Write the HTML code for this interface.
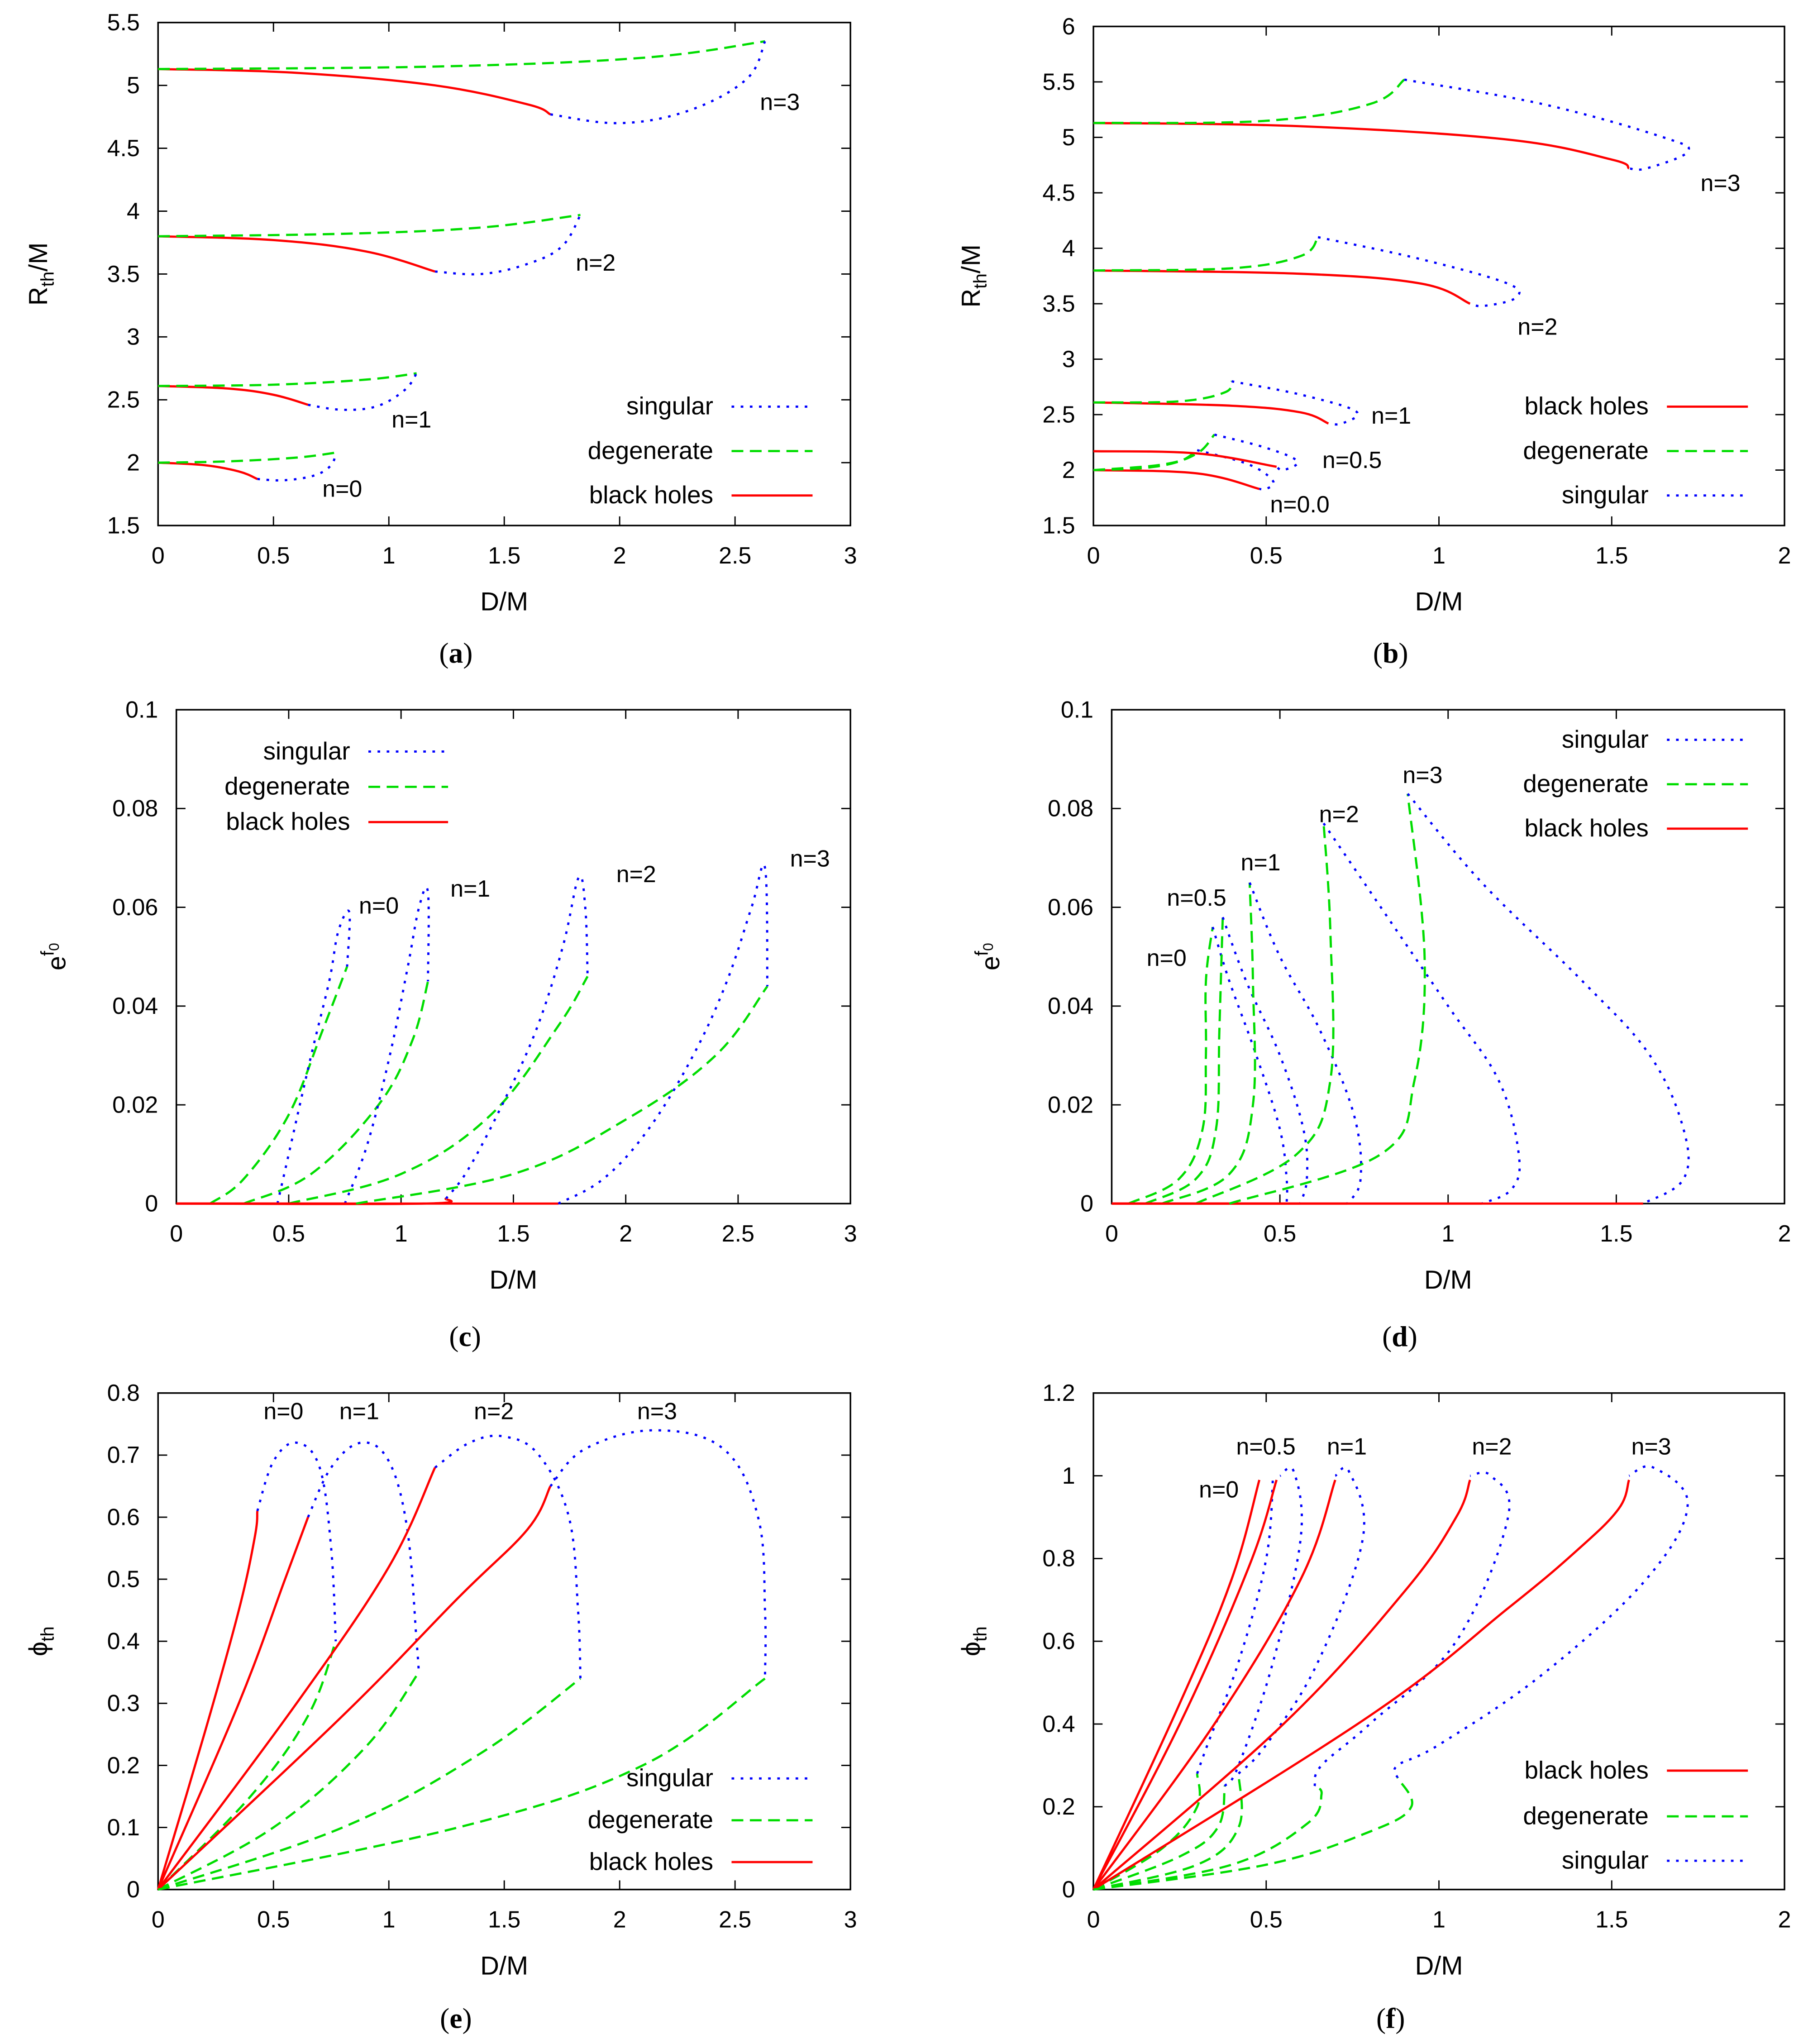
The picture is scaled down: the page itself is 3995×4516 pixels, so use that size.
<!DOCTYPE html>
<html><head><meta charset="utf-8">
<style>
html,body{margin:0;padding:0;background:#fff;}
svg{display:block;}
text{font-family:"Liberation Sans",sans-serif;font-size:18px;fill:#000;}
.cap{font-family:"Liberation Serif",serif;font-size:22px;}
</style></head>
<body>
<svg id="fig" xmlns="http://www.w3.org/2000/svg" width="3995" height="4516" viewBox="0 0 1384 1564"></svg>
<script>
// ---------- Panel (a): R_th/M vs D/M ----------
const aXTicks=[0,0.5,1,1.5,2,2.5,3];
const aYTicks=[1.5,2,2.5,3,3.5,4,4.5,5,5.5];
const a_n0_bh=[[0,2.0],[0.2,1.98],[0.35,1.93],[0.43,1.87]];
const a_n0_sg=[[0.43,1.87],[0.55,1.86],[0.68,1.9],[0.75,1.98],[0.77,2.08]];
const a_n0_dg=[[0,2.0],[0.3,2.01],[0.6,2.04],[0.77,2.08]];
const a_n1_bh=[[0,2.61],[0.3,2.59],[0.5,2.54],[0.65,2.46]];
const a_n1_sg=[[0.65,2.46],[0.8,2.42],[0.95,2.45],[1.07,2.58],[1.12,2.71]];
const a_n1_dg=[[0,2.61],[0.5,2.62],[0.9,2.66],[1.12,2.71]];
const a_n2_bh=[[0,3.8],[0.5,3.77],[0.9,3.68],[1.2,3.52]];
const a_n2_sg=[[1.2,3.52],[1.4,3.5],[1.6,3.58],[1.75,3.72],[1.83,3.97]];
const a_n2_dg=[[0,3.8],[0.8,3.82],[1.4,3.87],[1.83,3.97]];
const a_n3_bh=[[0,5.13],[0.6,5.1],[1.2,5.0],[1.6,4.85],[1.7,4.77]];
const a_n3_sg=[[1.7,4.77],[2.0,4.7],[2.3,4.8],[2.55,5.05],[2.63,5.35]];
const a_n3_dg=[[0,5.13],[1.2,5.15],[2.1,5.22],[2.63,5.35]];
// ---------- Panel (b) ----------
const bXTicks=[0,0.5,1,1.5,2];
const bYTicks=[1.5,2,2.5,3,3.5,4,4.5,5,5.5,6];
const b_n0_bh=[[0,2.0],[0.3,1.97],[0.48,1.83]];
const b_n0_dg=[[0,2.0],[0.15,2.02],[0.25,2.08],[0.3,2.18]];
const b_n0_sg=[[0.3,2.18],[0.45,2.05],[0.52,1.9],[0.5,1.83],[0.48,1.83]];
const b_n05_bh=[[0,2.17],[0.3,2.15],[0.53,2.03]];
const b_n05_dg=[[0,2.0],[0.2,2.05],[0.3,2.15],[0.35,2.32]];
const b_n05_sg=[[0.35,2.32],[0.5,2.2],[0.59,2.08],[0.55,2.0],[0.53,2.03]];
const b_n1_bh=[[0,2.61],[0.4,2.58],[0.6,2.52],[0.68,2.42]];
const b_n1_dg=[[0,2.61],[0.25,2.62],[0.38,2.7],[0.4,2.8]];
const b_n1_sg=[[0.4,2.8],[0.6,2.68],[0.76,2.53],[0.72,2.42],[0.68,2.42]];
const b_n2_bh=[[0,3.8],[0.6,3.77],[0.95,3.68],[1.09,3.5]];
const b_n2_dg=[[0,3.8],[0.4,3.82],[0.6,3.93],[0.65,4.1]];
const b_n2_sg=[[0.65,4.1],[0.95,3.9],[1.2,3.68],[1.22,3.55],[1.13,3.48],[1.09,3.5]];
const b_n3_bh=[[0,5.13],[0.6,5.1],[1.2,4.98],[1.5,4.8],[1.55,4.72]];
const b_n3_dg=[[0,5.13],[0.5,5.15],[0.8,5.3],[0.9,5.52]];
const b_n3_sg=[[0.9,5.52],[1.3,5.3],[1.65,5.0],[1.72,4.87],[1.6,4.72],[1.55,4.72]];
// ---------- Panel (c) ----------
const cXTicks=[0,0.5,1,1.5,2,2.5,3];
const cYTicks=[0,0.02,0.04,0.06,0.08,0.1];
const cYLabels=["0","0.02","0.04","0.06","0.08","0.1"];
const c_n0_bh=[[0,0],[0.45,0]];
const c_n0_sg=[[0.45,0],[0.5,0.01],[0.6,0.03],[0.68,0.045],[0.72,0.055],[0.77,0.059],[0.76,0.048]];
const c_n0_dg=[[0.15,0],[0.3,0.005],[0.5,0.018],[0.65,0.035],[0.76,0.048]];
const c_n1_bh=[[0,0],[0.75,0]];
const c_n1_sg=[[0.75,0],[0.85,0.012],[0.95,0.03],[1.03,0.048],[1.08,0.06],[1.12,0.063],[1.12,0.045]];
const c_n1_dg=[[0.3,0],[0.6,0.006],[0.9,0.02],[1.05,0.033],[1.12,0.045]];
const c_n2_bh=[[0,0],[1.1,0],[1.2,0.001]];
const c_n2_sg=[[1.2,0.001],[1.3,0.007],[1.45,0.02],[1.6,0.035],[1.72,0.052],[1.79,0.066],[1.82,0.06],[1.83,0.046]];
const c_n2_dg=[[0.5,0],[1.0,0.006],[1.4,0.018],[1.7,0.036],[1.83,0.046]];
const c_n3_bh=[[0,0],[1.7,0]];
const c_n3_sg=[[1.7,0],[1.9,0.005],[2.1,0.015],[2.3,0.03],[2.45,0.045],[2.56,0.06],[2.62,0.068],[2.63,0.044]];
const c_n3_dg=[[0.8,0],[1.5,0.006],[2.0,0.017],[2.4,0.03],[2.63,0.044]];
// ---------- Panel (d) ----------
const dXTicks=[0,0.5,1,1.5,2];
const dYTicks=[0,0.02,0.04,0.06,0.08,0.1];
const d_n0_bh=[[0,0],[0.52,0]];
const d_n0_dg=[[0.05,0],[0.2,0.005],[0.27,0.015],[0.28,0.03],[0.28,0.045],[0.3,0.056]];
const d_n0_sg=[[0.3,0.056],[0.35,0.045],[0.43,0.03],[0.5,0.015],[0.52,0.005],[0.52,0]];
const d_n05_bh=[[0,0],[0.56,0]];
const d_n05_dg=[[0.1,0],[0.25,0.005],[0.31,0.015],[0.32,0.035],[0.33,0.058]];
const d_n05_sg=[[0.33,0.058],[0.4,0.045],[0.5,0.03],[0.57,0.015],[0.58,0.005],[0.56,0]];
const d_n1_bh=[[0,0],[0.7,0]];
const d_n1_dg=[[0.15,0],[0.35,0.006],[0.42,0.02],[0.42,0.045],[0.41,0.065]];
const d_n1_sg=[[0.41,0.065],[0.5,0.05],[0.62,0.035],[0.72,0.018],[0.74,0.005],[0.7,0]];
const d_n2_bh=[[0,0],[1.1,0]];
const d_n2_dg=[[0.25,0],[0.55,0.01],[0.65,0.025],[0.65,0.055],[0.63,0.077]];
const d_n2_sg=[[0.63,0.077],[0.8,0.06],[1.0,0.04],[1.15,0.025],[1.21,0.01],[1.19,0.003],[1.1,0]];
const d_n3_bh=[[0,0],[1.58,0]];
const d_n3_dg=[[0.35,0],[0.8,0.01],[0.9,0.025],[0.93,0.05],[0.88,0.083]];
const d_n3_sg=[[0.88,0.083],[1.1,0.065],[1.4,0.045],[1.6,0.03],[1.7,0.015],[1.7,0.005],[1.58,0]];
// ---------- Panel (e) ----------
const eXTicks=[0,0.5,1,1.5,2,2.5,3];
const eYTicks=[0,0.1,0.2,0.3,0.4,0.5,0.6,0.7,0.8];
const e_n0_bh=[[0,0],[0.2,0.25],[0.35,0.45],[0.42,0.57],[0.43,0.61]];
const e_n0_sg=[[0.43,0.61],[0.5,0.69],[0.6,0.72],[0.7,0.68],[0.75,0.55],[0.77,0.4]];
const e_n0_dg=[[0,0],[0.4,0.15],[0.65,0.28],[0.77,0.4]];
const e_n1_bh=[[0,0],[0.35,0.3],[0.55,0.5],[0.65,0.6]];
const e_n1_sg=[[0.65,0.6],[0.75,0.68],[0.88,0.72],[1.0,0.69],[1.08,0.58],[1.12,0.4],[1.13,0.35]];
const e_n1_dg=[[0,0],[0.5,0.1],[0.9,0.23],[1.13,0.35]];
const e_n2_bh=[[0,0],[0.6,0.3],[1.0,0.52],[1.2,0.68]];
const e_n2_sg=[[1.2,0.68],[1.35,0.72],[1.5,0.73],[1.65,0.7],[1.78,0.6],[1.82,0.45],[1.83,0.34]];
const e_n2_dg=[[0,0],[0.8,0.1],[1.4,0.22],[1.83,0.34]];
const e_n3_bh=[[0,0],[0.8,0.28],[1.3,0.47],[1.6,0.58],[1.7,0.65]];
const e_n3_sg=[[1.7,0.65],[1.85,0.71],[2.15,0.74],[2.45,0.71],[2.6,0.6],[2.63,0.45],[2.63,0.34]];
const e_n3_dg=[[0,0],[1.3,0.1],[2.1,0.2],[2.63,0.34]];
// ---------- Panel (f) ----------
const fXTicks=[0,0.5,1,1.5,2];
const fYTicks=[0,0.2,0.4,0.6,0.8,1,1.2];
const f_n0_bh=[[0,0],[0.25,0.45],[0.4,0.75],[0.48,0.99]];
const f_n0_dg=[[0,0],[0.2,0.1],[0.3,0.2],[0.3,0.28]];
const f_n0_sg=[[0.3,0.28],[0.33,0.35],[0.42,0.55],[0.5,0.8],[0.52,1.0]];
const f_n05_bh=[[0,0],[0.25,0.4],[0.45,0.78],[0.53,0.99]];
const f_n05_dg=[[0,0],[0.25,0.08],[0.36,0.15],[0.38,0.25]];
const f_n05_sg=[[0.38,0.25],[0.42,0.3],[0.52,0.55],[0.6,0.85],[0.58,1.01],[0.54,1.0]];
const f_n1_bh=[[0,0],[0.35,0.4],[0.6,0.75],[0.7,0.99]];
const f_n1_dg=[[0,0],[0.3,0.06],[0.42,0.15],[0.42,0.28]];
const f_n1_sg=[[0.42,0.28],[0.5,0.35],[0.65,0.55],[0.78,0.85],[0.74,1.01],[0.7,1.0]];
const f_n2_bh=[[0,0],[0.55,0.4],[0.9,0.72],[1.05,0.9],[1.09,0.99]];
const f_n2_dg=[[0,0],[0.4,0.06],[0.62,0.16],[0.66,0.23],[0.64,0.25]];
const f_n2_sg=[[0.64,0.25],[0.66,0.3],[0.8,0.4],[1.05,0.6],[1.2,0.9],[1.15,1.0],[1.09,1.0]];
const f_n3_bh=[[0,0],[0.8,0.42],[1.2,0.68],[1.4,0.82],[1.52,0.92],[1.55,0.99]];
const f_n3_dg=[[0,0],[0.5,0.06],[0.8,0.14],[0.92,0.2],[0.88,0.27]];
const f_n3_sg=[[0.88,0.27],[0.88,0.3],[1.0,0.35],[1.3,0.52],[1.6,0.75],[1.72,0.93],[1.62,1.02],[1.55,1.0]];

const NS="http://www.w3.org/2000/svg";
const svg=document.getElementById('fig');
const RED="#ff0000",GRN="#00dd00",BLU="#0000ff";
function mk(tag,attrs,parent,txt){const e=document.createElementNS(NS,tag);for(const k in attrs)e.setAttribute(k,attrs[k]);if(txt!==undefined)e.textContent=txt;(parent||svg).appendChild(e);return e;}
function smooth(P){
  if(P.length<3)return 'M'+P.map(p=>p[0].toFixed(1)+','+p[1].toFixed(1)).join(' L');
  let d='M'+P[0][0].toFixed(1)+','+P[0][1].toFixed(1);
  for(let i=0;i<P.length-1;i++){
    const p0=P[i-1]||P[i],p1=P[i],p2=P[i+1],p3=P[i+2]||p2;
    const t=0.18;
    const c1=[p1[0]+(p2[0]-p0[0])*t,p1[1]+(p2[1]-p0[1])*t];
    const c2=[p2[0]-(p3[0]-p1[0])*t,p2[1]-(p3[1]-p1[1])*t];
    d+=' C'+c1[0].toFixed(1)+','+c1[1].toFixed(1)+' '+c2[0].toFixed(1)+','+c2[1].toFixed(1)+' '+p2[0].toFixed(1)+','+p2[1].toFixed(1);
  }
  return d;
}

function panel(P){
  const g=mk('g',{});
  
  
  const sx=v=>P.x0+(v-P.xmin)/(P.xmax-P.xmin)*(P.x1-P.x0);
  const sy=v=>P.y0+(v-P.ymin)/(P.ymax-P.ymin)*(P.y1-P.y0);
  const fr=mk('rect',{x:P.x0,y:P.y1,width:P.x1-P.x0,height:P.y0-P.y1,fill:'none',stroke:'#000','stroke-width':1.2},g);
  
  
  P.xt.forEach(v=>{
    const x=sx(v);
    mk('line',{x1:x,y1:P.y0,x2:x,y2:P.y0-7,stroke:'#000','stroke-width':1},g);
    mk('line',{x1:x,y1:P.y1,x2:x,y2:P.y1+7,stroke:'#000','stroke-width':1},g);
    const t=mk('text',{x:x,y:P.y0+29,'text-anchor':'middle'},g,String(v));
    
    
  });
  P.yt.forEach((v,i)=>{
    const y=sy(v);
    mk('line',{x1:P.x0,y1:y,x2:P.x0+7,y2:y,stroke:'#000','stroke-width':1},g);
    mk('line',{x1:P.x1,y1:y,x2:P.x1-7,y2:y,stroke:'#000','stroke-width':1},g);
    const t=mk('text',{x:P.x0-14,y:y+6,'text-anchor':'end'},g,P.yl?P.yl[i]:String(v));
    
    
  });
  const xl=mk('text',{x:(P.x0+P.x1)/2,y:P.y0+65,'text-anchor':'middle',style:'font-size:20px'},g,'D/M');
  
  
  const yl=mk('text',{transform:`translate(${P.ytx},${(P.y0+P.y1)/2}) rotate(-90)`,'text-anchor':'middle',style:'font-size:20px'},g);
  
  
  if(P.ytitle==='R'){yl.innerHTML='R<tspan dy="5" style="font-size:14px">th</tspan><tspan dy="-5">/M</tspan>';}
  else if(P.ytitle==='e'){yl.innerHTML='e<tspan dy="-9" style="font-size:14px">f</tspan><tspan dy="4" style="font-size:11px">0</tspan>';}
  else {yl.innerHTML='ϕ<tspan dy="5" style="font-size:14px">th</tspan>';}
  const cap=mk('text',{x:(P.x0+P.x1)/2-37,y:P.capy,'text-anchor':'middle','class':'cap'},g);
  cap.innerHTML='(<tspan font-weight="bold">'+P.cap+'</tspan>)';
  
  
  const style={bh:{c:RED,d:''},dg:{c:GRN,d:'9,5'},sg:{c:BLU,d:'2,5'}};
  P.curves.forEach(cv=>{
    const s=style[cv[1]];
    const pts=cv[2].map(p=>[sx(p[0]),sy(p[1])]);
    const pl=mk('path',{d:smooth(pts),fill:'none',stroke:s.c,'stroke-width':1.7,'stroke-dasharray':s.d,'stroke-linejoin':'round'},g);
    
    
  });
  P.labels.forEach(l=>{
    const t=mk('text',{x:l[1],y:l[2],'text-anchor':'middle'},g,l[0]);
    
    
  });
  P.legend.items.forEach((it,i)=>{
    const y=P.legend.ys[i];
    const s=style[it[1]];
    const t=mk('text',{x:P.legend.tx,y:y+6,'text-anchor':'end',style:'font-size:19px'},g,it[0]);
    
    
    const ln=mk('line',{x1:P.legend.lx0,y1:y,x2:P.legend.lx1,y2:y,stroke:s.c,'stroke-width':1.7,'stroke-dasharray':s.d},g);
    
    
  });
}
const L3=[['singular','sg'],['degenerate','dg'],['black holes','bh']];
const L3r=[['black holes','bh'],['degenerate','dg'],['singular','sg']];
function cs(pfx,ns,src){const out=[];ns.forEach(n=>['bh','dg','sg'].forEach(t=>out.push([pfx+'-'+n+'-'+t,t,src[n+'_'+t]])));return out;}

panel({name:'panel-a',x0:121,x1:651,y0:402,y1:17,xmin:0,xmax:3,ymin:1.5,ymax:5.5,xt:aXTicks,yt:aYTicks,ytitle:'R',ytx:36,cap:'a',capy:507,
 curves:cs('a',['n0','n1','n2','n3'],{n0_bh:a_n0_bh,n0_dg:a_n0_dg,n0_sg:a_n0_sg,n1_bh:a_n1_bh,n1_dg:a_n1_dg,n1_sg:a_n1_sg,n2_bh:a_n2_bh,n2_dg:a_n2_dg,n2_sg:a_n2_sg,n3_bh:a_n3_bh,n3_dg:a_n3_dg,n3_sg:a_n3_sg}),
 labels:[['n=0',262,380],['n=1',315,327],['n=2',456,207],['n=3',597,84]],
 legend:{items:L3,ys:[311,345,379],tx:546,lx0:560,lx1:622}});
panel({name:'panel-b',x0:837,x1:1366,y0:402,y1:20,xmin:0,xmax:2,ymin:1.5,ymax:6,xt:bXTicks,yt:bYTicks,ytitle:'R',ytx:750,cap:'b',capy:507,
 curves:cs('b',['n0','n05','n1','n2','n3'],{n0_bh:b_n0_bh,n0_dg:b_n0_dg,n0_sg:b_n0_sg,n05_bh:b_n05_bh,n05_dg:b_n05_dg,n05_sg:b_n05_sg,n1_bh:b_n1_bh,n1_dg:b_n1_dg,n1_sg:b_n1_sg,n2_bh:b_n2_bh,n2_dg:b_n2_dg,n2_sg:b_n2_sg,n3_bh:b_n3_bh,n3_dg:b_n3_dg,n3_sg:b_n3_sg}),
 labels:[['n=3',1317,146],['n=2',1177,256],['n=1',1065,324],['n=0.5',1035,358],['n=0.0',995,392]],
 legend:{items:L3r,ys:[311,345,379],tx:1262,lx0:1276,lx1:1338}});
panel({name:'panel-c',x0:135,x1:651,y0:921,y1:543,xmin:0,xmax:3,ymin:0,ymax:0.1,xt:cXTicks,yt:cYTicks,yl:cYLabels,ytitle:'e',ytx:50,cap:'c',capy:1030,
 curves:cs('c',['n0','n1','n2','n3'],{n0_bh:c_n0_bh,n0_dg:c_n0_dg,n0_sg:c_n0_sg,n1_bh:c_n1_bh,n1_dg:c_n1_dg,n1_sg:c_n1_sg,n2_bh:c_n2_bh,n2_dg:c_n2_dg,n2_sg:c_n2_sg,n3_bh:c_n3_bh,n3_dg:c_n3_dg,n3_sg:c_n3_sg}),
 labels:[['n=0',290,699],['n=1',360,686],['n=2',487,675],['n=3',620,663]],
 legend:{items:L3,ys:[575,602,629],tx:268,lx0:282,lx1:343}});
panel({name:'panel-d',x0:851,x1:1366,y0:921,y1:543,xmin:0,xmax:2,ymin:0,ymax:0.1,xt:dXTicks,yt:dYTicks,yl:cYLabels,ytitle:'e',ytx:765,cap:'d',capy:1030,
 curves:cs('d',['n0','n05','n1','n2','n3'],{n0_bh:d_n0_bh,n0_dg:d_n0_dg,n0_sg:d_n0_sg,n05_bh:d_n05_bh,n05_dg:d_n05_dg,n05_sg:d_n05_sg,n1_bh:d_n1_bh,n1_dg:d_n1_dg,n1_sg:d_n1_sg,n2_bh:d_n2_bh,n2_dg:d_n2_dg,n2_sg:d_n2_sg,n3_bh:d_n3_bh,n3_dg:d_n3_dg,n3_sg:d_n3_sg}),
 labels:[['n=3',1089,599],['n=2',1025,629],['n=1',965,666],['n=0.5',916,693],['n=0',893,739]],
 legend:{items:L3,ys:[566,600,634],tx:1262,lx0:1276,lx1:1338}});
panel({name:'panel-e',x0:121,x1:651,y0:1446,y1:1066,xmin:0,xmax:3,ymin:0,ymax:0.8,xt:eXTicks,yt:eYTicks,ytitle:'p',ytx:36,cap:'e',capy:1552,
 curves:cs('e',['n0','n1','n2','n3'],{n0_bh:e_n0_bh,n0_dg:e_n0_dg,n0_sg:e_n0_sg,n1_bh:e_n1_bh,n1_dg:e_n1_dg,n1_sg:e_n1_sg,n2_bh:e_n2_bh,n2_dg:e_n2_dg,n2_sg:e_n2_sg,n3_bh:e_n3_bh,n3_dg:e_n3_dg,n3_sg:e_n3_sg}),
 labels:[['n=0',217,1086],['n=1',275,1086],['n=2',378,1086],['n=3',503,1086]],
 legend:{items:L3,ys:[1361,1393,1425],tx:546,lx0:560,lx1:622}});
panel({name:'panel-f',x0:837,x1:1366,y0:1446,y1:1066,xmin:0,xmax:2,ymin:0,ymax:1.2,xt:fXTicks,yt:fYTicks,ytitle:'p',ytx:750,cap:'f',capy:1552,
 curves:cs('f',['n0','n05','n1','n2','n3'],{n0_bh:f_n0_bh,n0_dg:f_n0_dg,n0_sg:f_n0_sg,n05_bh:f_n05_bh,n05_dg:f_n05_dg,n05_sg:f_n05_sg,n1_bh:f_n1_bh,n1_dg:f_n1_dg,n1_sg:f_n1_sg,n2_bh:f_n2_bh,n2_dg:f_n2_dg,n2_sg:f_n2_sg,n3_bh:f_n3_bh,n3_dg:f_n3_dg,n3_sg:f_n3_sg}),
 labels:[['n=0',933,1146],['n=0.5',969,1113],['n=1',1031,1113],['n=2',1142,1113],['n=3',1264,1113]],
 legend:{items:L3r,ys:[1355,1390,1424],tx:1262,lx0:1276,lx1:1338}});
</script>
</body></html>
